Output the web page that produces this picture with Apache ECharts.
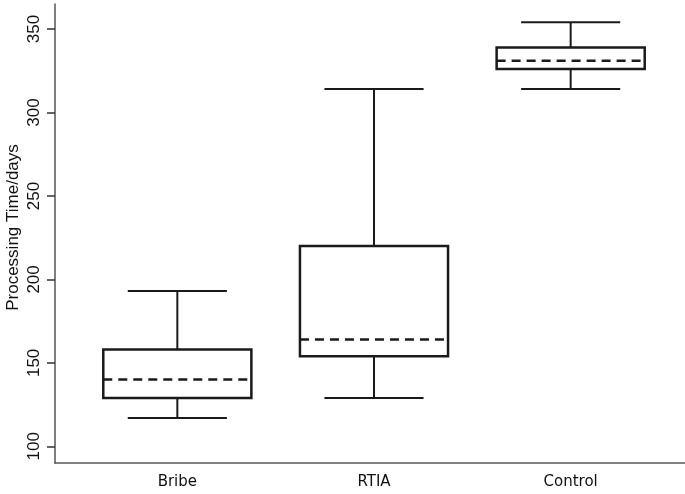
<!DOCTYPE html>
<html><head><meta charset="utf-8">
<script src="https://cdn.jsdelivr.net/npm/echarts@6/dist/echarts.min.js"></script>
<style>html,body{margin:0;padding:0;background:#fff}#c{width:685px;height:494px}</style>
</head><body><div id="c"></div>
<script>
const categories = ['Bribe', 'RTIA', 'Control'];
const whiskerLow = [117, 129, 314];
const q1 = [129, 154, 326];
const median = [140, 164, 331];
const q3 = [158, 220, 339];
const whiskerHigh = [193, 314, 354];
const yTicks = [100, 150, 200, 250, 300, 350];

const data = categories.map((c, i) => [i, whiskerLow[i], q1[i], median[i], q3[i], whiskerHigh[i]]);

function renderItem(params, api) {
  const x = api.value(0);
  const band = api.size([1, 0])[0];
  const bw = band * 0.753, cw = band * 0.504;
  const pLow = api.coord([x, api.value(1)]);
  const pQ1 = api.coord([x, api.value(2)]);
  const pMed = api.coord([x, api.value(3)]);
  const pQ3 = api.coord([x, api.value(4)]);
  const pHigh = api.coord([x, api.value(5)]);
  const cx = pLow[0];
  const stroke = '#1a1a1a';
  return {type: 'group', children: [
    {type: 'line', shape: {x1: cx, y1: pHigh[1], x2: cx, y2: pQ3[1]}, style: {stroke, lineWidth: 2}},
    {type: 'line', shape: {x1: cx, y1: pQ1[1], x2: cx, y2: pLow[1]}, style: {stroke, lineWidth: 2}},
    {type: 'line', shape: {x1: cx - cw / 2, y1: pHigh[1], x2: cx + cw / 2, y2: pHigh[1]}, style: {stroke, lineWidth: 2}},
    {type: 'line', shape: {x1: cx - cw / 2, y1: pLow[1], x2: cx + cw / 2, y2: pLow[1]}, style: {stroke, lineWidth: 2}},
    {type: 'rect', shape: {x: cx - bw / 2, y: pQ3[1], width: bw, height: pQ1[1] - pQ3[1]}, style: {fill: 'none', stroke, lineWidth: 2.5}},
    {type: 'line', shape: {x1: cx - bw / 2, y1: pMed[1], x2: cx + bw / 2, y2: pMed[1]}, style: {stroke, lineWidth: 2.5, lineDash: [9, 6]}}
  ]};
}

const chart = echarts.init(document.getElementById('c'), null, {renderer: 'canvas'});
chart.setOption({
  animation: false,
  backgroundColor: '#fff',
  grid: [
    {left: 79, right: 16, top: 4, bottom: 31, outerBoundsMode: 'none', containLabel: false},
    {left: 55, right: 0, top: 4, bottom: 31, outerBoundsMode: 'none', containLabel: false}
  ],
  xAxis: [
    {
      gridIndex: 0, type: 'category', data: categories,
      axisLine: {show: false}, axisTick: {show: false},
      axisLabel: {fontSize: 15, fontFamily: 'DejaVu Sans', color: '#111', margin: 12}
    },
    {
      gridIndex: 1, type: 'value', min: 0, max: 1,
      axisLine: {show: true, onZero: false, lineStyle: {color: '#555', width: 1.5}},
      axisTick: {show: false}, axisLabel: {show: false}, splitLine: {show: false}
    }
  ],
  yAxis: [
    {
      gridIndex: 0, type: 'value', min: 90, max: 365, offset: 24,
      name: 'Processing Time/days', nameLocation: 'middle', nameRotate: 90, nameGap: 33,
      nameMoveOverlap: false,
      nameTextStyle: {fontSize: 17, fontFamily: 'Liberation Sans', color: '#111', padding: [0, 0, 0, 12]},
      axisLine: {show: true, lineStyle: {color: '#555', width: 1.5}},
      axisTick: {show: true, inside: false, length: 8, customValues: yTicks, lineStyle: {color: '#333', width: 1.5}},
      axisLabel: {customValues: yTicks, rotate: 90, fontSize: 17, fontFamily: 'Liberation Sans', color: '#111', margin: 12},
      splitLine: {show: false}
    },
    {gridIndex: 1, type: 'value', show: false, min: 0, max: 1}
  ],
  series: [{
    type: 'custom', xAxisIndex: 0, yAxisIndex: 0,
    renderItem: renderItem,
    data: data,
    encode: {x: 0, y: [1, 2, 3, 4, 5]}
  }]
});
</script>
</body></html>
